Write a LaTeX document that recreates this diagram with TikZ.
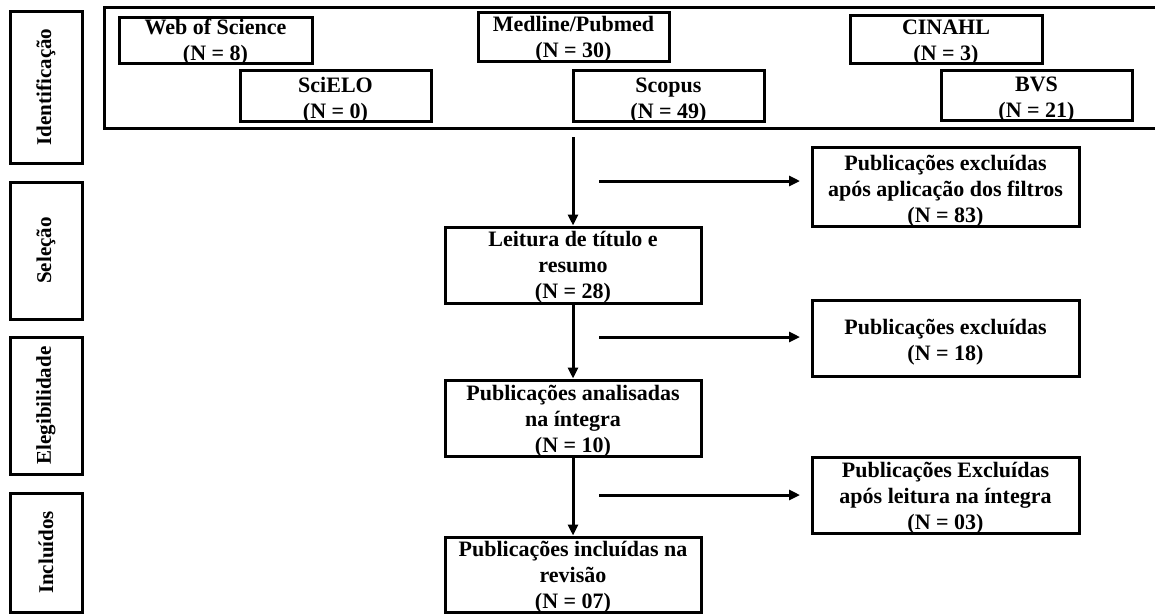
\documentclass[tikz,border=0pt]{standalone}
\usepackage{fontspec}
\setmainfont{Liberation Serif}
\usetikzlibrary{arrows.meta}
\newcommand\flowbox[7]{%
  \node[box, minimum width={(#4-#2)*1pt}, minimum height={(#5-#3)*1pt}] (#1) at ({(#2+#4)/2},{-(#3+#5)/2}) {};
  \node[txt, anchor=north] (#1t) at ({(#2+#4)/2},{-(#6-18)}) {\rule{0pt}{18pt}#7};
}
\begin{document}
\begin{tikzpicture}[x=1pt,y=1pt,
  box/.style={draw, line width=3pt, inner sep=0pt, rectangle},
  txt/.style={inner sep=0pt, align=center, font=\fontsize{22}{26}\selectfont\bfseries},
  stagelabel/.style={rotate=90, inner sep=0pt, font=\fontsize{21}{25}\selectfont\bfseries},
  arr/.style={line width=3pt, -{Triangle[length=11pt,width=10pt]}}]
\useasboundingbox (0,0) rectangle (1155,-614);
% stage boxes
\node[box, minimum width=72pt, minimum height=152pt] (sid) at (46,-87) {};
\node[stagelabel] (sidl) at (sid) {Identificação};
\node[box, minimum width=72pt, minimum height=137pt] (ssel) at (46,-250.5) {};
\node[stagelabel] (ssell) at (ssel) {Seleção};
\node[box, minimum width=72pt, minimum height=137pt] (sele) at (46,-405.5) {};
\node[stagelabel] (selel) at (sele) {Elegibilidade};
\node[box, minimum width=72pt, minimum height=119pt] (sinc) at (46,-552.5) {};
\node[stagelabel] (sincl) at (sinc) {Incluídos};
% identification frame
\draw[line width=3pt] (1156,-7) -- (104,-7) -- (104,-128) -- (1156,-128);
% databases
\flowbox{web}{119}{17}{312}{63}{34}{Web of Science\\(N = 8)}
\flowbox{med}{478}{12}{669}{61}{31}{Medline/Pubmed\\(N = 30)}
\flowbox{cin}{850}{15}{1042}{63}{34}{CINAHL\\(N = 3)}
\flowbox{sci}{240}{70}{431}{121}{92}{SciELO\\(N = 0)}
\flowbox{sco}{573}{70}{764}{121}{92}{Scopus\\(N = 49)}
\flowbox{bvs}{941}{70}{1132}{120}{91}{BVS\\(N = 21)}
% flow
\flowbox{leit}{445}{227}{701}{303}{246}{Leitura de título e\\resumo\\(N = 28)}
\flowbox{ex1}{812}{147}{1079}{226}{170}{Publicações excluídas\\após aplicação dos filtros\\(N = 83)}
\flowbox{ex2}{812}{300}{1079}{376}{334}{Publicações excluídas\\(N = 18)}
\flowbox{anal}{445}{380}{701}{456}{400}{Publicações analisadas\\na íntegra\\(N = 10)}
\flowbox{ex3}{812}{457}{1079}{533}{477}{Publicações Excluídas\\após leitura na íntegra\\(N = 03)}
\flowbox{incl}{445}{537}{701}{612}{556}{Publicações incluídas na\\revisão\\(N = 07)}
% connectors
\coordinate (s1) at (573,-137);
\draw[arr] (s1) -- (leit.north);
\draw[arr] (leit.south) -- (anal.north);
\draw[arr] (anal.south) -- (incl.north);
\coordinate (h1a) at (599,-181);
\coordinate (h1b) at (800,-181);
\draw[arr] (h1a) -- (h1b);
\coordinate (h2a) at (599,-337);
\coordinate (h2b) at (800,-337);
\draw[arr] (h2a) -- (h2b);
\coordinate (h3a) at (599,-495);
\coordinate (h3b) at (800,-495);
\draw[arr] (h3a) -- (h3b);
\end{tikzpicture}
\end{document}
